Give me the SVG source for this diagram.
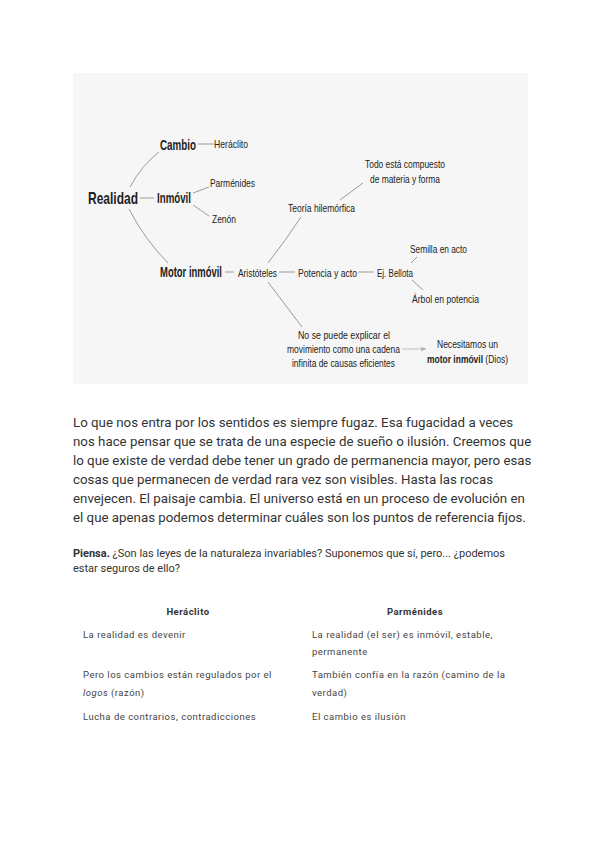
<svg xmlns="http://www.w3.org/2000/svg" width="600" height="848" viewBox="0 0 600 848">
<style>
.d{font-family:"Liberation Sans",Arial,sans-serif;fill:#222;}
.s{font-size:11px;}
.b{font-size:14px;font-weight:bold;}
.c{stroke:#9a9a9a;stroke-width:1;fill:none;}
.body{font-family:Roboto,"Liberation Sans",sans-serif;font-size:13.3px;fill:#333;}
.p{font-family:Roboto,"Liberation Sans",sans-serif;font-size:11px;fill:#333;}
.t{font-family:Roboto,"Liberation Sans",sans-serif;font-size:9.5px;fill:#444;letter-spacing:0.5px;}
.th{font-family:Roboto,"Liberation Sans",sans-serif;font-size:9.5px;fill:#333;font-weight:bold;letter-spacing:0.5px;}
</style>
<defs>
<marker id="ah" viewBox="0 0 10 10" refX="9" refY="5" markerWidth="6" markerHeight="6" orient="auto">
<path d="M0,1 L10,5 L0,9 Z" fill="#b5b5b5"/>
</marker>
</defs>
<rect x="0" y="0" width="600" height="848" fill="#ffffff"/>
<rect x="73" y="73" width="455" height="311" fill="#f6f6f6"/>
<g id="connectors">
<path class="c" d="M130,187 Q142,165 159,152"/>
<path class="c" d="M140,198 L154,198"/>
<path class="c" d="M129,209 Q145,240 168,263"/>
<path class="c" d="M198,144 L214,144"/>
<path class="c" d="M193,193 L209,187"/>
<path class="c" d="M193,205 L209,216"/>
<path class="c" d="M225,272 L234,272"/>
<path class="c" d="M268,263 Q286,240 301,217"/>
<path class="c" d="M340,200 L363,183"/>
<path class="c" d="M279,272 L295,272"/>
<path class="c" d="M358,272 L374,272"/>
<path class="c" d="M411,263 L417,257"/>
<path class="c" d="M412,280 L423,290"/>
<path class="c" d="M268,282 L302,327"/>
<path d="M402,349 L426,349" stroke="#c0c0c0" stroke-width="1" fill="none" marker-end="url(#ah)"/>
</g>
<g id="n-realidad"><text class="d" x="88" y="204" font-size="17" font-weight="bold" textLength="50" lengthAdjust="spacingAndGlyphs">Realidad</text></g>
<g id="n-cambio"><text class="d b" x="160" y="150" textLength="36" lengthAdjust="spacingAndGlyphs">Cambio</text></g>
<g id="n-inmovil"><text class="d b" x="157" y="203" textLength="34" lengthAdjust="spacingAndGlyphs">Inmóvil</text></g>
<g id="n-motor"><text class="d b" transform="translate(160,277) scale(0.676,1)" x="0" y="0">Motor inmóvil</text></g>
<g id="n-heraclito"><text class="d s" x="214" y="148" textLength="34" lengthAdjust="spacingAndGlyphs">Heráclito</text></g>
<g id="n-parmenides"><text class="d s" x="210" y="187" textLength="45" lengthAdjust="spacingAndGlyphs">Parménides</text></g>
<g id="n-zenon"><text class="d s" x="212" y="223" textLength="24" lengthAdjust="spacingAndGlyphs">Zenón</text></g>
<g id="n-aristoteles"><text class="d s" x="238" y="277" textLength="39" lengthAdjust="spacingAndGlyphs">Aristóteles</text></g>
<g id="n-teoria"><text class="d s" x="288" y="212" textLength="67" lengthAdjust="spacingAndGlyphs">Teoría hilemórfica</text></g>
<g id="n-todo"><text class="d s" x="365" y="168" textLength="80" lengthAdjust="spacingAndGlyphs">Todo está compuesto</text><text class="d s" x="370" y="183" textLength="70" lengthAdjust="spacingAndGlyphs">de materia y forma</text></g>
<g id="n-potencia"><text class="d s" x="298" y="277" textLength="59" lengthAdjust="spacingAndGlyphs">Potencia y acto</text></g>
<g id="n-bellota"><text class="d s" x="377" y="277" textLength="36" lengthAdjust="spacingAndGlyphs">Ej. Bellota</text></g>
<g id="n-semilla"><text class="d s" x="410" y="253" textLength="57" lengthAdjust="spacingAndGlyphs">Semilla en acto</text></g>
<g id="n-arbol"><text class="d s" x="412" y="303" textLength="67" lengthAdjust="spacingAndGlyphs">Árbol en potencia</text></g>
<g id="n-nosepuede"><text class="d s" x="298" y="339" textLength="92" lengthAdjust="spacingAndGlyphs">No se puede explicar el</text><text class="d s" x="287" y="353" textLength="113" lengthAdjust="spacingAndGlyphs">movimiento como una cadena</text><text class="d s" x="292" y="367" textLength="103" lengthAdjust="spacingAndGlyphs">infinita de causas eficientes</text></g>
<g id="n-necesitamos"><text class="d s" x="437" y="348" textLength="61" lengthAdjust="spacingAndGlyphs">Necesitamos un</text><text class="d s" transform="translate(427,363) scale(0.771,1)" x="0" y="0"><tspan font-weight="bold">motor inmóvil</tspan> (Dios)</text></g>
<g id="body">
<text class="body" x="73" y="427">Lo que nos entra por los sentidos es siempre fugaz. Esa fugacidad a veces</text>
<text class="body" x="73" y="446">nos hace pensar que se trata de una especie de sueño o ilusión. Creemos que</text>
<text class="body" x="73" y="465">lo que existe de verdad debe tener un grado de permanencia mayor, pero esas</text>
<text class="body" x="73" y="484">cosas que permanecen de verdad rara vez son visibles. Hasta las rocas</text>
<text class="body" x="73" y="503">envejecen. El paisaje cambia. El universo está en un proceso de evolución en</text>
<text class="body" x="73" y="522">el que apenas podemos determinar cuáles son los puntos de referencia fijos.</text>
</g>
<g id="piensa">
<text class="p" x="73" y="557"><tspan font-weight="bold">Piensa.</tspan> ¿Son las leyes de la naturaleza invariables? Suponemos que sí, pero... ¿podemos</text>
<text class="p" x="73" y="572">estar seguros de ello?</text>
</g>
<g id="table">
<text class="th" x="188" y="615" text-anchor="middle">Heráclito</text>
<text class="th" x="415" y="615" text-anchor="middle">Parménides</text>
<text class="t" x="83" y="638">La realidad es devenir</text>
<text class="t" x="312" y="638">La realidad (el ser) es inmóvil, estable,</text>
<text class="t" x="312" y="655">permanente</text>
<text class="t" x="83" y="678">Pero los cambios están regulados por el</text>
<text class="t" x="83" y="696"><tspan font-style="italic">logos</tspan> (razón)</text>
<text class="t" x="312" y="678">También confía en la razón (camino de la</text>
<text class="t" x="312" y="696">verdad)</text>
<text class="t" x="83" y="720">Lucha de contrarios, contradicciones</text>
<text class="t" x="312" y="720">El cambio es ilusión</text>
</g>
</svg>
